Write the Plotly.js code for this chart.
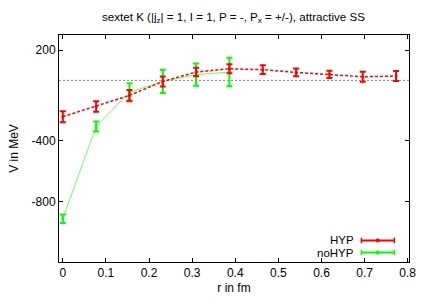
<!DOCTYPE html>
<html><head><meta charset="utf-8">
<script src="https://cdn.plot.ly/plotly-3.0.1.min.js"></script>
<style>html,body{margin:0;padding:0;background:#fff}#c{width:430px;height:301px}</style>
</head><body><div id="c"></div>
<script>
const rHYP = [0, 0.0773, 0.1546, 0.2319, 0.3092, 0.3865, 0.4638, 0.5411, 0.6184, 0.6957, 0.773];
const vHYP = [-240, -172, -99, -7, 55, 77, 71, 53, 40, 24, 29];
const eHYP = [36, 35, 36, 33, 28, 30, 29, 25, 24, 33, 33];
const rNoHYP = [0, 0.0773, 0.1546, 0.2319, 0.3092, 0.3865];
const vNoHYP = [-914, -304, -79, -7, 38, 55];
const eNoHYP = [28, 33, 60, 77, 74, 94];
const yTicks = [200, -400, -800];
const xTicks = [0, 0.1, 0.2, 0.3, 0.4, 0.5, 0.6, 0.7, 0.8];
const seriesNames = ['HYP', 'noHYP'];

const font = {family: 'Liberation Sans, Arial, sans-serif', size: 12, color: '#000'};
const legFont = {family: 'Liberation Sans, Arial, sans-serif', size: 11.5, color: '#000'};
const traces = [
  {x: rNoHYP, y: vNoHYP, mode: 'lines+markers', name: seriesNames[1],
   line: {color: 'rgba(0,255,0,0.6)', width: 1},
   marker: {color: '#00ff00', size: 3},
   error_y: {type: 'data', array: eNoHYP, visible: true, color: '#00ff00', thickness: 2, width: 3}},
  {x: rHYP, y: vHYP, mode: 'lines+markers', name: seriesNames[0],
   line: {color: '#ff0000', width: 1.5, dash: '3px,2px'},
   marker: {color: '#ff0000', size: 3},
   error_y: {type: 'data', array: eHYP, visible: true, color: '#ff0000', thickness: 2, width: 3}}
];
function legendShapes(y, color) {
  return [
    {type: 'line', xref: 'paper', yref: 'paper', x0: 0.864, x1: 0.958, y0: y, y1: y, line: {color: color, width: 2}},
    {type: 'line', xref: 'paper', yref: 'paper', x0: 0.864, x1: 0.864, y0: y - 0.012, y1: y + 0.012, line: {color: color, width: 1.5}},
    {type: 'line', xref: 'paper', yref: 'paper', x0: 0.958, x1: 0.958, y0: y - 0.012, y1: y + 0.012, line: {color: color, width: 1.5}},
    {type: 'rect', xref: 'paper', yref: 'paper', x0: 0.906, x1: 0.915, y0: y - 0.008, y1: y + 0.008, fillcolor: color, line: {width: 0}}
  ];
}
const layout = {
  width: 430, height: 301,
  margin: {l: 58.5, r: 21.3, t: 35.3, b: 38.7},
  paper_bgcolor: '#fff', plot_bgcolor: '#fff',
  font: font,
  showlegend: false,
  title: {text: 'sextet K (|j<sub>z</sub>| = 1, I = 1, P = -, P<sub>x</sub> = +/-), attractive SS',
          font: {family: font.family, size: 11.6, color: '#000'}, x: 0.543, xanchor: 'center', y: 0.945, yanchor: 'middle'},
  xaxis: {range: [-0.0088, 0.803], tickvals: xTicks, ticktext: xTicks.map(String),
          ticks: 'inside', ticklen: 4, tickcolor: '#000', showline: true, linecolor: '#000', linewidth: 1,
          mirror: 'ticks', showgrid: false, zeroline: false,
          title: {text: 'r in fm', font: font, standoff: 4}},
  yaxis: {range: [-1200, 300], tickvals: yTicks, ticktext: yTicks.map(String),
          ticks: 'inside', ticklen: 4, tickcolor: '#000', showline: true, linecolor: '#000', linewidth: 1,
          mirror: 'ticks', showgrid: false, zeroline: false,
          title: {text: 'V in MeV', font: font, standoff: 10}},
  shapes: [
    {type: 'line', xref: 'paper', yref: 'y', x0: 0, x1: 1, y0: 0, y1: 0,
     line: {color: '#888', width: 1, dash: '2px,2px'}, layer: 'below'}
  ].concat(legendShapes(0.095, '#ff0000'), legendShapes(0.042, '#00ff00')),
  annotations: [
    {xref: 'paper', yref: 'paper', x: 0.842, y: 0.097, xanchor: 'right', yanchor: 'middle',
     text: seriesNames[0], showarrow: false, font: legFont, borderpad: 0, borderwidth: 0},
    {xref: 'paper', yref: 'paper', x: 0.842, y: 0.040, xanchor: 'right', yanchor: 'middle',
     text: seriesNames[1], showarrow: false, font: legFont, borderpad: 0, borderwidth: 0}
  ]
};
Plotly.newPlot('c', traces, layout, {displayModeBar: false, staticPlot: true});
</script></body></html>
